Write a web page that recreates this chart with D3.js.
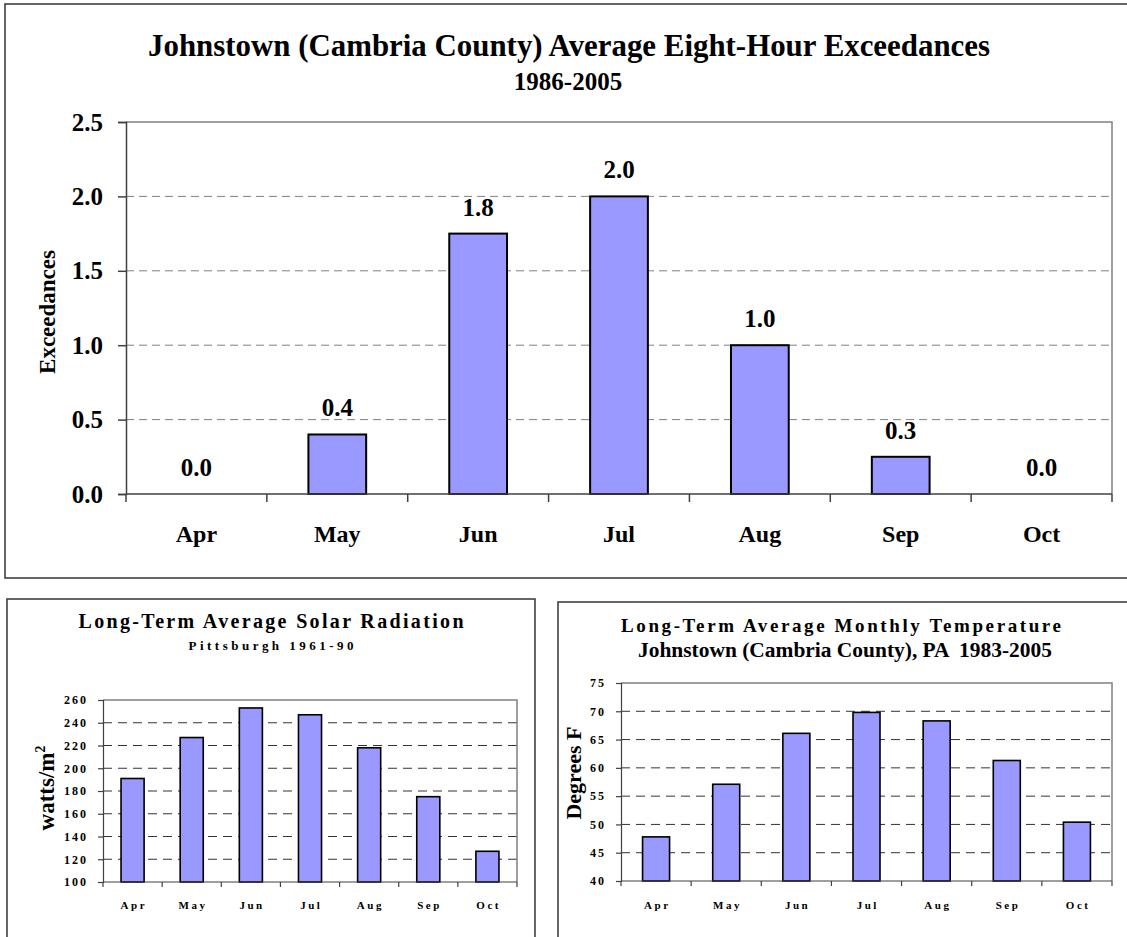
<!DOCTYPE html>
<html>
<head>
<meta charset="utf-8">
<script src="https://cdn.jsdelivr.net/npm/d3@7"></script>
<style>
  body { margin: 0; background: #fff; }
  svg text { font-family: "Liberation Serif", "Times New Roman", serif; font-weight: bold; fill: #000; white-space: pre; }
</style>
</head>
<body>
<svg id="page" width="1127" height="937"></svg>
<script>
// data
var months = ['Apr', 'May', 'Jun', 'Jul', 'Aug', 'Sep', 'Oct'];

var exceedances = [0, 0.4, 1.75, 2.0, 1.0, 0.25, 0];
var exceedanceTicks = [0, 0.5, 1.0, 1.5, 2.0, 2.5];

var solarRadiation = [191, 227, 253, 247, 218, 175, 127];
var solarTicks = [100, 120, 140, 160, 180, 200, 220, 240, 260];

var temperature = [47.8, 57.1, 66.1, 69.8, 68.3, 61.3, 50.4];
var temperatureTicks = [40, 45, 50, 55, 60, 65, 70, 75];

var svg = d3.select('#page');

// outer frames
svg.append('rect').attr('x', 5).attr('y', 4).attr('width', 1140).attr('height', 574)
    .attr('fill', 'none').attr('stroke', '#404040').attr('stroke-width', 1.6);
svg.append('rect').attr('x', 7).attr('y', 599).attr('width', 528).attr('height', 400)
    .attr('fill', 'none').attr('stroke', '#404040').attr('stroke-width', 1.6);
svg.append('rect').attr('x', 558).attr('y', 602).attr('width', 600).attr('height', 400)
    .attr('fill', 'none').attr('stroke', '#404040').attr('stroke-width', 1.6);

function drawChart(cfg) {
    var g = svg.append('g');

    var x = d3.scaleBand()
        .domain(months)
        .range([cfg.left, cfg.right])
        .paddingInner(cfg.padding)
        .paddingOuter(cfg.padding / 2);

    var y = d3.scaleLinear()
        .domain(cfg.domain)
        .range([cfg.bottom, cfg.top]);

    // grid lines
    g.selectAll('.grid')
        .data(cfg.ticks.filter(function (t) { return t > cfg.domain[0] && t < cfg.domain[1]; }))
        .enter()
        .append('line')
        .attr('x1', cfg.left)
        .attr('x2', cfg.right)
        .attr('y1', function (d) { return y(d); })
        .attr('y2', function (d) { return y(d); })
        .attr('stroke', cfg.gridColor)
        .attr('stroke-width', 1)
        .attr('stroke-dasharray', cfg.dash);

    // top and right frame of the plot area
    g.append('path')
        .attr('d', 'M' + cfg.left + ',' + cfg.top + 'H' + cfg.right + 'V' + cfg.bottom)
        .attr('fill', 'none')
        .attr('stroke', '#808080')
        .attr('stroke-width', cfg.frameWidth);

    // bars
    g.selectAll('.bar')
        .data(cfg.values)
        .enter()
        .append('rect')
        .attr('x', function (d, i) { return x(months[i]); })
        .attr('y', function (d) { return y(d); })
        .attr('width', x.bandwidth())
        .attr('height', function (d) { return cfg.bottom - y(d); })
        .attr('fill', '#9999ff')
        .attr('stroke', '#000')
        .attr('stroke-width', cfg.barStroke);

    // y axis
    var yAxis = g.append('g')
        .attr('transform', 'translate(' + cfg.left + ',0)')
        .call(d3.axisLeft(y).tickValues(cfg.ticks).tickSize(cfg.tickSize).tickPadding(cfg.yPad)
            .tickFormat(cfg.tickFormat));
    yAxis.select('.domain').attr('stroke', '#404040').attr('stroke-width', cfg.axisWidth);
    yAxis.selectAll('.tick line').attr('stroke', '#404040').attr('stroke-width', cfg.axisWidth);
    yAxis.selectAll('.tick text')
        .attr('font-size', cfg.tickFont)
        .attr('letter-spacing', cfg.tickSpacing)
        .attr('font-family', null);

    // x axis: ticks sit on the band boundaries
    var xAxis = g.append('g')
        .attr('transform', 'translate(0,' + cfg.bottom + ')');
    xAxis.append('line')
        .attr('x1', cfg.left).attr('x2', cfg.right)
        .attr('stroke', '#404040').attr('stroke-width', cfg.axisWidth);
    var step = x.step();
    xAxis.selectAll('.xtick')
        .data(d3.range(months.length + 1))
        .enter()
        .append('line')
        .attr('x1', function (i) { return cfg.left + i * step; })
        .attr('x2', function (i) { return cfg.left + i * step; })
        .attr('y1', 0)
        .attr('y2', cfg.tickSize)
        .attr('stroke', '#404040')
        .attr('stroke-width', cfg.axisWidth);
    xAxis.selectAll('.xlabel')
        .data(months)
        .enter()
        .append('text')
        .attr('x', function (d) { return x(d) + x.bandwidth() / 2 + cfg.xSpacing / 2; })
        .attr('y', cfg.xLabelDy)
        .attr('text-anchor', 'middle')
        .attr('font-size', cfg.xFont)
        .attr('letter-spacing', cfg.xSpacing)
        .text(function (d) { return d; });

    // data labels
    if (cfg.valueLabels) {
        g.selectAll('.vlabel')
            .data(cfg.values)
            .enter()
            .append('text')
            .attr('x', function (d, i) { return x(months[i]) + x.bandwidth() / 2; })
            .attr('y', function (d) { return y(d) - 18; })
            .attr('text-anchor', 'middle')
            .attr('font-size', cfg.valueFont)
            .text(function (d) { return d3.format('.1f')(d); });
    }

    // titles
    cfg.titles.forEach(function (t) {
        var txt = g.append('text')
            .attr('x', t.x)
            .attr('y', t.y)
            .attr('text-anchor', 'middle')
            .attr('font-size', t.size)
            .text(t.text);
        if (t.length) {
            txt.attr('textLength', t.length).attr('lengthAdjust', t.adjust || 'spacingAndGlyphs');
        }
    });

    // y axis title
    var yt = g.append('text')
        .attr('transform', 'translate(' + cfg.yTitle.x + ',' + cfg.yTitle.y + ') rotate(-90)')
        .attr('text-anchor', 'middle')
        .attr('font-size', cfg.yTitle.size)
        .text(cfg.yTitle.text);
    if (cfg.yTitle.sup) {
        yt.append('tspan')
            .attr('font-size', cfg.yTitle.size * 0.6)
            .attr('dy', -cfg.yTitle.size * 0.4)
            .text(cfg.yTitle.sup);
    }
}

drawChart({
    values: exceedances,
    ticks: exceedanceTicks,
    domain: [0, 2.5],
    left: 126, right: 1112, top: 122, bottom: 494,
    padding: 0.59,
    gridColor: '#808080', dash: '8,5',
    frameWidth: 1.5, axisWidth: 1.5, barStroke: 2,
    tickSize: 8, yPad: 15,
    tickFormat: d3.format('.1f'),
    tickFont: 25, tickSpacing: 0,
    xFont: 24, xSpacing: 0, xLabelDy: 48,
    valueLabels: true, valueFont: 25,
    titles: [
        {text: 'Johnstown (Cambria County) Average Eight-Hour Exceedances', x: 569, y: 56, size: 31, length: 842},
        {text: '1986-2005', x: 568, y: 90, size: 25}
    ],
    yTitle: {text: 'Exceedances', x: 55, y: 312, size: 23}
});

drawChart({
    values: solarRadiation,
    ticks: solarTicks,
    domain: [100, 260],
    left: 103, right: 517, top: 700, bottom: 882,
    padding: 0.61,
    gridColor: '#333', dash: '9,6',
    frameWidth: 1.5, axisWidth: 1.2, barStroke: 1.6,
    tickSize: 5, yPad: 10,
    tickFormat: d3.format('d'),
    tickFont: 12, tickSpacing: 2,
    xFont: 11, xSpacing: 2.5, xLabelDy: 27,
    valueLabels: false,
    titles: [
        {text: 'Long-Term Average Solar Radiation', x: 271, y: 628, size: 20, length: 385, adjust: 'spacing'},
        {text: 'Pittsburgh 1961-90', x: 271, y: 650, size: 13, length: 165, adjust: 'spacing'}
    ],
    yTitle: {text: 'watts/m', sup: '2', x: 54, y: 788, size: 23}
});

drawChart({
    values: temperature,
    ticks: temperatureTicks,
    domain: [40, 75],
    left: 621, right: 1112, top: 683, bottom: 881,
    padding: 0.615,
    gridColor: '#333', dash: '9,6',
    frameWidth: 1.5, axisWidth: 1.2, barStroke: 1.6,
    tickSize: 5, yPad: 10,
    tickFormat: d3.format('d'),
    tickFont: 12, tickSpacing: 2,
    xFont: 11, xSpacing: 2.5, xLabelDy: 28,
    valueLabels: false,
    titles: [
        {text: 'Long-Term Average Monthly Temperature', x: 841, y: 632, size: 19, length: 440, adjust: 'spacing'},
        {text: 'Johnstown (Cambria County), PA  1983-2005', x: 845, y: 657, size: 20, length: 414}
    ],
    yTitle: {text: 'Degrees F', x: 581, y: 773, size: 22}
});
</script>
</body>
</html>
